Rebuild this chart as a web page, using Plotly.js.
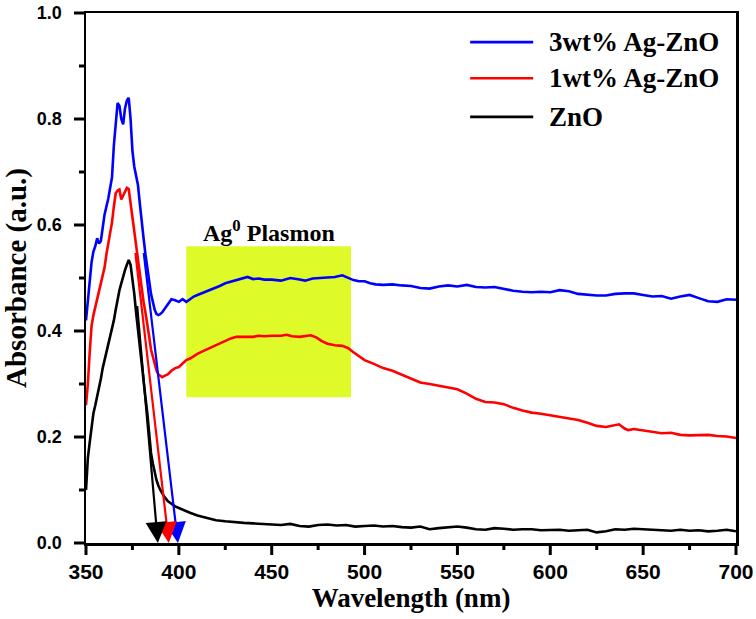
<!DOCTYPE html>
<html>
<head>
<meta charset="utf-8">
<script src="https://cdn.plot.ly/plotly-3.0.1.min.js"></script>
<style>html,body{margin:0;padding:0;background:#fff;}#chart{width:756px;height:619px;}</style>
</head>
<body>
<div id="chart"></div>
<script>
// ---- data ----
const seriesNames = ['3wt% Ag-ZnO', '1wt% Ag-ZnO', 'ZnO'];
const seriesColors = ['#0000ff', '#ff0000', '#000000'];

const wl3 = [350,351,352,353,354,355,356,357,358,359,360,362,364,365,366,367,368,369,370,371,372,373,374,375,376,377,378,379,380,381,382,383,384,385,386,387,388,389,390,391,392,394,396,398,400,402,404,406,408,410,413,416,419,422,425,428,431,434,437,440,443,446,450,455,460,465,468,472,476,480,484,488,491,494,497,500,503,506,510,515,520,525,530,535,540,545,550,555,560,565,570,575,580,585,590,595,600,605,610,615,620,625,630,635,640,645,650,655,660,665,670,675,680,685,690,695,700];
const abs3 = [0.42,0.46,0.50,0.53,0.55,0.56,0.575,0.565,0.57,0.60,0.62,0.65,0.69,0.75,0.80,0.83,0.825,0.80,0.79,0.82,0.835,0.84,0.80,0.74,0.71,0.69,0.675,0.64,0.60,0.575,0.545,0.52,0.49,0.47,0.455,0.44,0.432,0.43,0.432,0.435,0.44,0.45,0.46,0.458,0.455,0.46,0.455,0.46,0.465,0.468,0.472,0.477,0.48,0.485,0.49,0.493,0.497,0.50,0.502,0.498,0.499,0.497,0.497,0.495,0.50,0.497,0.495,0.499,0.50,0.50,0.502,0.505,0.50,0.496,0.494,0.494,0.49,0.488,0.487,0.488,0.486,0.485,0.481,0.48,0.484,0.486,0.484,0.487,0.483,0.482,0.483,0.479,0.476,0.474,0.473,0.474,0.473,0.477,0.475,0.470,0.468,0.467,0.467,0.470,0.471,0.471,0.468,0.465,0.466,0.461,0.465,0.468,0.462,0.456,0.455,0.460,0.459];

const wl1 = [350,351,352,353,354,355,356,357,358,359,360,361,362,363,364,365,366,367,368,369,370,371,372,373,374,375,376,377,378,379,380,381,382,383,384,385,386,387,388,389,390,391,392,394,396,398,400,402,404,406,408,410,413,416,419,422,425,428,431,434,437,440,443,446,450,455,458,461,465,468,471,474,477,480,484,488,491,494,497,500,505,510,515,520,525,530,535,540,545,550,555,560,565,570,575,580,585,590,595,600,605,610,615,620,625,630,635,637,640,642,645,650,655,660,665,670,675,680,685,690,695,700];
const abs1 = [0.26,0.30,0.36,0.41,0.43,0.445,0.46,0.47,0.485,0.50,0.52,0.545,0.565,0.585,0.605,0.635,0.66,0.665,0.667,0.648,0.655,0.665,0.670,0.668,0.64,0.62,0.59,0.56,0.53,0.50,0.477,0.455,0.435,0.415,0.39,0.365,0.35,0.335,0.325,0.318,0.315,0.313,0.315,0.318,0.325,0.33,0.332,0.338,0.345,0.348,0.353,0.357,0.362,0.367,0.372,0.377,0.382,0.386,0.389,0.389,0.390,0.389,0.391,0.390,0.391,0.391,0.393,0.390,0.389,0.391,0.392,0.388,0.381,0.376,0.373,0.372,0.368,0.36,0.352,0.345,0.338,0.33,0.325,0.318,0.31,0.303,0.30,0.297,0.294,0.29,0.282,0.272,0.266,0.265,0.262,0.255,0.25,0.246,0.244,0.241,0.238,0.236,0.232,0.227,0.221,0.219,0.222,0.224,0.216,0.213,0.215,0.212,0.210,0.207,0.208,0.204,0.203,0.204,0.204,0.202,0.201,0.198];

const wl0 = [350,351,352,353,354,355,356,357,358,359,360,361,362,363,364,365,366,367,368,369,370,371,372,373,374,375,376,377,378,379,380,381,382,383,384,385,386,387,388,389,390,392,394,396,398,400,403,406,410,413,416,420,425,430,435,440,445,450,455,460,465,470,475,480,485,490,495,500,505,510,515,520,525,530,535,540,545,550,555,560,565,570,575,580,585,590,595,600,605,610,615,620,625,630,635,640,645,650,655,660,665,670,675,680,685,690,695,700];
const abs0 = [0.10,0.16,0.19,0.22,0.245,0.26,0.275,0.29,0.31,0.33,0.345,0.36,0.37,0.39,0.405,0.42,0.44,0.46,0.477,0.49,0.505,0.515,0.525,0.534,0.525,0.50,0.47,0.434,0.40,0.37,0.34,0.308,0.275,0.245,0.20,0.17,0.15,0.132,0.118,0.108,0.10,0.088,0.079,0.074,0.069,0.066,0.061,0.057,0.052,0.049,0.046,0.043,0.041,0.039,0.038,0.037,0.036,0.035,0.034,0.036,0.032,0.031,0.034,0.035,0.033,0.034,0.031,0.032,0.033,0.031,0.032,0.030,0.029,0.031,0.026,0.028,0.030,0.031,0.029,0.026,0.025,0.028,0.027,0.025,0.026,0.026,0.024,0.024,0.025,0.023,0.024,0.025,0.020,0.022,0.026,0.025,0.027,0.026,0.025,0.024,0.023,0.025,0.023,0.024,0.022,0.023,0.025,0.022];

// band-edge tangent arrows: tail (on curve) -> tip (on x axis)
const arrowTailX = [381, 376.5, 377.5];
const arrowTailY = [0.55, 0.55, 0.45];
const arrowTipX  = [399.5, 394.6, 388.7];
const arrowTipY  = [0, 0, 0];

// plasmon region
const plasmonX = [404, 492.7];
const plasmonY = [0.275, 0.56];
const plasmonLabel = 'Ag<sup>0</sup> Plasmon';

// axis ticks
const xRange = [350, 700], xMajor = 50, xMinor = 25;
const yRange = [0, 1.0], yMajor = 0.2, yMinor = 0.1;

// ---- build ----
const W = 756, H = 619;
const M = {l: 86, r: 20, t: 13, b: 76};
const plotW = W - M.l - M.r, plotH = H - M.t - M.b;
const serif = 'Liberation Serif, Times New Roman, serif';
const sans = 'Liberation Sans, Arial, sans-serif';
const xs = [wl3, wl1, wl0], ys = [abs3, abs1, abs0];
const traces = xs.map((x, i) => ({
  x: x, y: ys[i], type: 'scatter', mode: 'lines', name: seriesNames[i],
  line: {color: seriesColors[i], width: 2.6}, showlegend: false
}));

const annotations = [];
for (let i = 0; i < arrowTipX.length; i++) {
  annotations.push({
    x: arrowTipX[i], y: arrowTipY[i], xref: 'x', yref: 'y',
    ax: arrowTailX[i], ay: arrowTailY[i], axref: 'x', ayref: 'y',
    text: '', showarrow: true, arrowhead: 2, arrowsize: 1.9, arrowwidth: 2.2,
    arrowcolor: seriesColors[i], standoff: 0, startstandoff: 0
  });
}
annotations.push({
  x: (plasmonX[0] + plasmonX[1]) / 2, y: plasmonY[1], xref: 'x', yref: 'y',
  yanchor: 'bottom', yshift: -2, text: '<b>' + plasmonLabel + '</b>', showarrow: false,
  font: {family: serif, size: 24, color: '#000'}
});

const shapes = [{
  type: 'rect', xref: 'x', yref: 'y', x0: plasmonX[0], x1: plasmonX[1],
  y0: plasmonY[0], y1: plasmonY[1], fillcolor: 'rgb(222,250,40)',
  line: {width: 0}, layer: 'below'
}];

// axis tick marks (drawn explicitly, outside the bottom and left axes)
const tickW = 3, majLen = 12, minLen = 7;
for (let v = xRange[0]; v <= xRange[1] + 1e-9; v += xMinor) {
  const isMaj = Math.abs(((v - xRange[0]) / xMajor) - Math.round((v - xRange[0]) / xMajor)) < 1e-6;
  const px = (v - xRange[0]) / (xRange[1] - xRange[0]);
  shapes.push({type: 'line', xref: 'paper', yref: 'paper', x0: px, x1: px,
    y0: 0, y1: -(isMaj ? majLen : minLen) / plotH, line: {color: '#000', width: tickW}});
}
for (let v = yRange[0]; v <= yRange[1] + 1e-9; v += yMinor) {
  const isMaj = Math.abs((v / yMajor) - Math.round(v / yMajor)) < 1e-6;
  const py = (v - yRange[0]) / (yRange[1] - yRange[0]);
  shapes.push({type: 'line', xref: 'paper', yref: 'paper', y0: py, y1: py,
    x0: 0, x1: -(isMaj ? majLen : minLen) / plotW, line: {color: '#000', width: tickW}});
}

// manual legend (longer line samples, like the reference)
const legY = [0.945, 0.877, 0.804];
for (let i = 0; i < seriesNames.length; i++) {
  shapes.push({type: 'line', xref: 'paper', yref: 'paper', x0: 0.591, x1: 0.688,
    y0: legY[i], y1: legY[i], line: {color: seriesColors[i], width: 2.6}});
  annotations.push({xref: 'paper', yref: 'paper', x: 0.709, y: legY[i],
    xanchor: 'left', yanchor: 'middle', showarrow: false,
    text: '<b>' + seriesNames[i] + '</b>', font: {family: serif, size: 27, color: '#000'}});
}

const layout = {
  width: W, height: H,
  margin: M,
  paper_bgcolor: '#fff', plot_bgcolor: '#fff',
  showlegend: false,
  xaxis: {
    range: xRange, tickmode: 'linear', tick0: xRange[0], dtick: xMajor,
    ticks: 'outside', ticklen: 8, tickwidth: 2.5, tickcolor: 'rgba(0,0,0,0)',
    showline: true, linewidth: 2.5, linecolor: '#000', mirror: true,
    showgrid: false, zeroline: false,
    tickfont: {family: sans, size: 21, color: '#000', weight: 700},
    title: {text: 'Wavelength (nm)', font: {family: serif, size: 27, color: '#000', weight: 700}, standoff: 6}
  },
  yaxis: {
    range: yRange, tickmode: 'linear', tick0: 0, dtick: yMajor, tickformat: '.1f',
    ticks: 'outside', ticklen: 18, tickwidth: 2.5, tickcolor: 'rgba(0,0,0,0)',
    showline: true, linewidth: 2.5, linecolor: '#000', mirror: true,
    showgrid: false, zeroline: false,
    tickfont: {family: sans, size: 18, color: '#000', weight: 700},
    title: {text: 'Absorbance (a.u.)', font: {family: serif, size: 29, color: '#000', weight: 700}, standoff: 2}
  },
  shapes: shapes,
  annotations: annotations
};

Plotly.newPlot('chart', traces, layout, {displayModeBar: false, staticPlot: true});
</script>
</body>
</html>
